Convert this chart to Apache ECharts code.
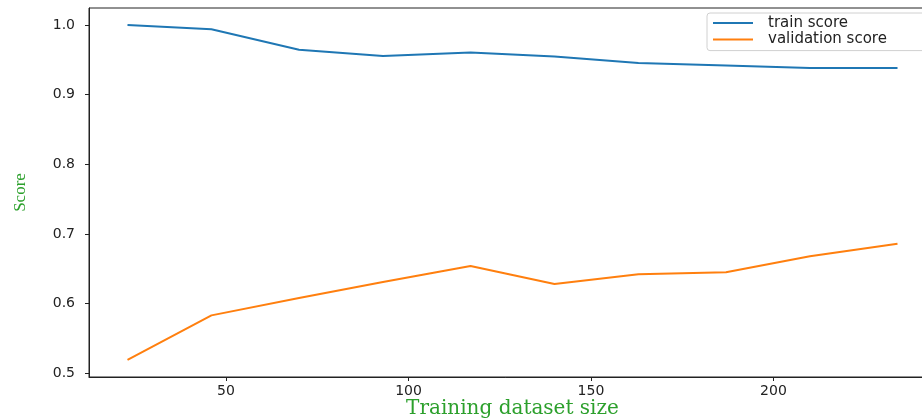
<!DOCTYPE html>
<html>
<head>
<meta charset="utf-8">
<script src="https://cdn.jsdelivr.net/npm/echarts@6/dist/echarts.min.js"></script>
<style>html,body{margin:0;padding:0;background:#fff}#c{width:922px;height:418px}</style>
</head>
<body>
<div id="c"></div>
<script>
const trainSizes = [23, 46, 70, 93, 117, 140, 163, 187, 210, 234];
const trainScore = [1.0, 0.994, 0.9645, 0.9555, 0.9605, 0.955, 0.9455, 0.942, 0.9385, 0.9385];
const validationScore = [0.519, 0.583, 0.608, 0.631, 0.654, 0.628, 0.642, 0.645, 0.668, 0.686];
const xTicks = [50, 100, 150, 200];
const yTicks = [0.5, 0.6, 0.7, 0.8, 0.9, 1.0];
const seriesNames = ['train score', 'validation score'];

const pair = (vals) => trainSizes.map((x, i) => [x, vals[i]]);
const axisCol = '#222';
const chart = echarts.init(document.getElementById('c'));
chart.setOption({
  animation: false,
  grid: { left: 89, right: -14, top: 8, bottom: 41, outerBoundsMode: 'none', containLabel: false, show: true, borderColor: axisCol, borderWidth: 1, backgroundColor: 'transparent' },
  legend: {
    orient: 'vertical', left: 707, top: 13,
    padding: [2, 5, 3, 6],
    icon: 'rect',
    itemWidth: 40, itemHeight: 2, itemGap: 0.6,
    backgroundColor: 'rgba(255,255,255,0.8)', borderColor: '#d0d0d0', borderWidth: 1, borderRadius: 3,
    textStyle: { fontFamily: 'DejaVu Sans', fontSize: 15, lineHeight: 16, height: 16, color: '#222', padding: [0, 0, 0, 10], width: 170 },
    data: seriesNames
  },
  xAxis: {
    type: 'value', min: 12.45, max: 244.55,
    name: 'Training dataset size', nameLocation: 'middle', nameGap: 22, nameMoveOverlap: false,
    nameTextStyle: { fontFamily: 'DejaVu Serif', fontSize: 20, color: '#2ca02c' },
    axisLine: { show: true, lineStyle: { color: axisCol, width: 1 } },
    axisTick: { show: true, length: 4, customValues: xTicks, lineStyle: { color: axisCol } },
    axisLabel: { customValues: xTicks, margin: 7, fontFamily: 'DejaVu Sans', fontSize: 14, color: '#222' },
    splitLine: { show: false }
  },
  yAxis: {
    type: 'value', min: 0.4945, max: 1.0245,
    name: 'Score', nameLocation: 'middle', nameGap: 60, nameRotate: 90, nameMoveOverlap: false,
    nameTextStyle: { fontFamily: 'Liberation Serif', fontSize: 17, color: '#2ca02c' },
    axisLine: { show: true, lineStyle: { color: axisCol, width: 1 } },
    axisTick: { show: true, length: 4, customValues: yTicks, lineStyle: { color: axisCol } },
    axisLabel: { customValues: yTicks, margin: 14, fontFamily: 'DejaVu Sans', fontSize: 14, color: '#222', formatter: v => v.toFixed(1) },
    splitLine: { show: false }
  },
  series: [
    { name: seriesNames[0], type: 'line', data: pair(trainScore), symbol: 'none', lineStyle: { color: '#1f77b4', width: 2 }, itemStyle: { color: '#1f77b4' } },
    { name: seriesNames[1], type: 'line', data: pair(validationScore), symbol: 'none', lineStyle: { color: '#ff7f0e', width: 2 }, itemStyle: { color: '#ff7f0e' } }
  ]
});
</script>
</body>
</html>
